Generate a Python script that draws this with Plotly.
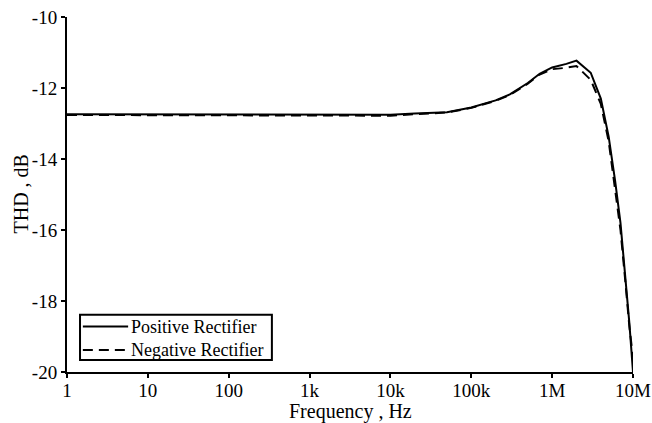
import plotly.graph_objects as go

# Frequency sweep (Hz) and measured THD (dB) for the two rectifiers
freq = [1, 10, 100, 1e3, 1e4, 2e4, 5e4, 1e5, 2e5, 3e5, 5e5, 7e5, 1e6,
        1.5e6, 2e6, 3e6, 4e6, 5e6, 6e6, 7e6, 8e6, 9e6, 1e7]
thd_positive = [-12.74, -12.74, -12.74, -12.74, -12.75, -12.72, -12.68, -12.55,
                -12.35, -12.18, -11.86, -11.6, -11.42, -11.32, -11.23, -11.57,
                -12.3, -13.37, -14.6, -15.8, -17.2, -18.6, -20.0]
thd_negative = [-12.76, -12.76, -12.77, -12.77, -12.78, -12.74, -12.69, -12.56,
                -12.36, -12.2, -11.88, -11.62, -11.47, -11.43, -11.38, -11.77,
                -12.45, -13.5, -14.8, -16.0, -17.4, -18.7, -19.6]
series_names = ["Positive Rectifier", "Negative Rectifier"]
series_dash = ["solid", "10px,6px"]

x_tick_vals = [1, 10, 100, 1e3, 1e4, 1e5, 1e6, 1e7]
x_tick_text = ["1", "10", "100", "1k", "10k", "100k", "1M", "10M"]
y_tick_vals = [-20, -18, -16, -14, -12, -10]
y_tick_text = ["-20", "-18", "-16", "-14", "-12", "-10"]

font_family = "Liberation Serif, Times New Roman, serif"

fig = go.Figure()
for name, values, dash in zip(series_names, [thd_positive, thd_negative], series_dash):
    fig.add_trace(go.Scatter(x=freq, y=values, mode="lines", name=name,
                             showlegend=False,
                             line=dict(color="black", width=2, dash=dash)))

# Boxed key in the lower-left corner of the plot area
shapes = [dict(type="rect", xref="paper", yref="paper",
               x0=0.023, x1=0.362, y0=0.034, y1=0.161,
               line=dict(color="black", width=2), fillcolor="white", layer="above")]
annotations = []
for i, (name, dash) in enumerate(zip(series_names, series_dash)):
    ky = 0.128 - i * 0.066
    shapes.append(dict(type="line", xref="paper", yref="paper",
                       x0=0.028, x1=0.108, y0=ky, y1=ky, layer="above",
                       line=dict(color="black", width=2, dash=dash)))
    annotations.append(dict(text=name, xref="paper", yref="paper", x=0.110, y=ky,
                            xanchor="left", yanchor="middle", showarrow=False,
                            font=dict(size=18, family=font_family, color="black")))

# Axis titles
annotations.append(dict(text="Frequency , Hz", xref="paper", yref="paper",
                        x=0.5, y=-0.112, xanchor="center", yanchor="middle",
                        showarrow=False,
                        font=dict(size=20, family=font_family, color="black")))
annotations.append(dict(text="THD , dB", xref="paper", yref="paper",
                        x=-0.083, y=0.5, xanchor="center", yanchor="middle",
                        textangle=-90, showarrow=False,
                        font=dict(size=20, family=font_family, color="black")))

fig.update_layout(
    width=652, height=423,
    margin=dict(l=67, r=19, t=17, b=51),
    paper_bgcolor="white", plot_bgcolor="white",
    font=dict(family=font_family, color="black", size=19),
    showlegend=False,
    shapes=shapes, annotations=annotations,
    xaxis=dict(type="log", range=[0, 7], tickvals=x_tick_vals, ticktext=x_tick_text,
               showline=True, linecolor="black", linewidth=2,
               ticks="outside", ticklen=4, tickwidth=2, tickcolor="black",
               showgrid=False, zeroline=False, automargin=False,
               ticklabelstandoff=-4, tickfont=dict(size=19)),
    yaxis=dict(range=[-20, -10], tickvals=y_tick_vals, ticktext=y_tick_text,
               showline=True, linecolor="black", linewidth=2,
               ticks="outside", ticklen=4, tickwidth=2, tickcolor="black",
               showgrid=False, zeroline=False, automargin=False,
               tickfont=dict(size=19)),
)

fig.write_html("out.html")
